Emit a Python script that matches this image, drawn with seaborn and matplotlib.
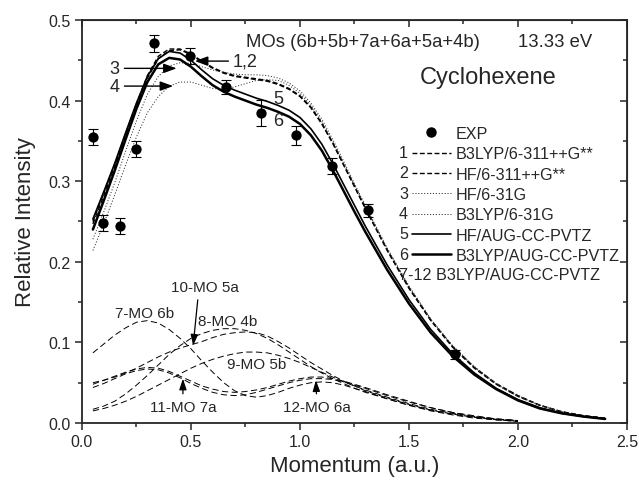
import matplotlib
matplotlib.use("Agg")
import matplotlib.pyplot as plt
import seaborn as sns
import pandas as pd
from matplotlib.lines import Line2D
from matplotlib.ticker import MultipleLocator

sns.set_style("ticks")
plt.rcParams["font.family"] = ["Liberation Sans", "DejaVu Sans"]
plt.rcParams["lines.scale_dashes"] = False

# ---------------- data ----------------
exp_x = [0.05, 0.096, 0.174, 0.25, 0.33, 0.495, 0.66, 0.82, 0.98, 1.147, 1.31, 1.71]
exp_y = [0.355, 0.248, 0.244, 0.340, 0.471, 0.455, 0.417, 0.385, 0.357, 0.319, 0.264, 0.085]
exp_err = [0.010, 0.010, 0.010, 0.010, 0.011, 0.010, 0.009, 0.016, 0.012, 0.010, 0.008, 0.005]

x_theory = [0.05, 0.1, 0.15, 0.2, 0.25, 0.3, 0.35, 0.4, 0.45, 0.5, 0.55, 0.6, 0.65, 0.7,
            0.75, 0.8, 0.85, 0.9, 0.95, 1.0, 1.05, 1.1, 1.15, 1.2, 1.25, 1.3, 1.4, 1.5,
            1.6, 1.7, 1.8, 1.9, 2.0, 2.1, 2.2, 2.3, 2.4]

b3lyp_6311 = [.247, .282, .318, .356, .393, .428, .452, .462, .463, .457, .448, .440, .434, .430,
              .428, .426, .424, .420, .414, .405, .391, .371, .347, .320, .293, .266, .214, .167,
              .127, .094, .068, .048, .033, .022, .014, .009, .006]
hf_6311 = [.250, .285, .321, .359, .396, .431, .455, .464, .464, .458, .449, .441, .435, .431,
           .429, .427, .425, .421, .415, .406, .392, .372, .348, .321, .294, .267, .215, .168,
           .128, .095, .069, .049, .034, .022, .014, .009, .006]
hf_631g = [.228, .262, .298, .337, .375, .408, .430, .443, .447, .446, .442, .438, .435, .433,
           .432, .432, .431, .428, .422, .412, .397, .377, .352, .325, .297, .270, .217, .170,
           .129, .096, .070, .049, .034, .022, .014, .009, .006]
b3lyp_631g = [.214, .247, .283, .320, .355, .385, .405, .418, .423, .423, .419, .415, .414, .417,
              .421, .425, .426, .425, .419, .409, .394, .374, .349, .322, .295, .268, .216, .169,
              .128, .095, .069, .048, .033, .022, .014, .009, .006]
hf_aug = [.253, .287, .322, .360, .397, .430, .452, .461, .459, .450, .438, .427, .419, .413,
          .408, .403, .399, .394, .388, .379, .365, .346, .322, .296, .270, .244, .196, .153,
          .116, .086, .062, .043, .029, .019, .012, .008, .005]
b3lyp_aug = [.240, .276, .313, .352, .390, .423, .445, .453, .451, .442, .430, .419, .411, .405,
             .400, .395, .391, .386, .380, .371, .357, .338, .314, .288, .262, .237, .190, .148,
             .112, .083, .060, .042, .028, .018, .012, .008, .005]

x_comp = [0.05, 0.1, 0.15, 0.2, 0.25, 0.3, 0.35, 0.4, 0.45, 0.5, 0.55, 0.6, 0.65, 0.7,
          0.75, 0.8, 0.85, 0.9, 0.95, 1.0, 1.05, 1.1, 1.15, 1.2, 1.25, 1.3, 1.4, 1.5,
          1.6, 1.7, 1.8, 1.9, 2.0]
mo7_6b = [.087, .098, .109, .118, .125, .127, .124, .116, .105, .092, .077, .063, .050, .040,
          .034, .032, .034, .038, .043, .047, .050, .051, .050, .047, .043, .039, .030, .022,
          .015, .010, .006, .004, .002]
mo8_4b = [.017, .021, .027, .036, .047, .059, .072, .085, .096, .105, .111, .115, .117, .117,
          .115, .111, .105, .097, .088, .079, .070, .062, .055, .049, .043, .038, .030, .022,
          .016, .011, .007, .004, .002]
mo9_5b = [.015, .018, .022, .027, .033, .040, .047, .054, .061, .068, .074, .079, .083, .086,
          .088, .088, .087, .084, .080, .075, .069, .063, .057, .051, .046, .041, .032, .024,
          .017, .012, .008, .005, .003]
mo10_5a = [.050, .053, .057, .062, .068, .075, .082, .088, .093, .097, .101, .106, .110, .112,
           .113, .112, .108, .101, .093, .084, .075, .067, .059, .052, .046, .040, .031, .023,
           .016, .011, .007, .004, .002]
mo11_7a = [.048, .053, .058, .063, .067, .069, .068, .064, .058, .052, .046, .042, .039, .038,
           .039, .041, .044, .048, .052, .055, .057, .057, .055, .052, .048, .044, .035, .027,
           .019, .013, .009, .005, .003]
mo12_6a = [.044, .049, .055, .061, .065, .067, .066, .062, .056, .049, .043, .038, .035, .034,
           .035, .038, .042, .046, .050, .053, .055, .055, .054, .051, .047, .043, .034, .026,
           .019, .013, .008, .005, .003]

legend_numbers = ["1", "2", "3", "4", "5", "6"]
legend_labels = ["B3LYP/6-311++G**", "HF/6-311++G**", "HF/6-31G", "B3LYP/6-31G",
                 "HF/AUG-CC-PVTZ", "B3LYP/AUG-CC-PVTZ"]

# ---------------- figure ----------------
fig = plt.figure(figsize=(6.39, 4.85), dpi=100)
ax = fig.add_axes([0.1283, 0.1258, 0.8529, 0.8309])

comp_style = dict(color="black", lw=0.7, linestyle=(0, (4.5, 2.5)))
for ys in [mo7_6b, mo8_4b, mo9_5b, mo10_5a, mo11_7a, mo12_6a]:
    sns.lineplot(x=x_comp, y=ys, ax=ax, estimator=None, sort=False, legend=False, **comp_style)

styles = [
    dict(color="black", lw=1.0, linestyle=(0, (3.5, 1.8))),
    dict(color="black", lw=1.0, linestyle=(0, (3.5, 1.8))),
    dict(color="#333333", lw=0.7, linestyle=(0, (0.8, 1.3))),
    dict(color="#333333", lw=0.7, linestyle=(0, (0.8, 1.3))),
    dict(color="black", lw=1.2, linestyle="-"),
    dict(color="black", lw=1.8, linestyle="-"),
]
series = [b3lyp_6311, hf_6311, hf_631g, b3lyp_631g, hf_aug, b3lyp_aug]
for ys, st in zip(series, styles):
    sns.lineplot(x=x_theory, y=ys, ax=ax, estimator=None, sort=False, legend=False, **st)

ax.errorbar(exp_x, exp_y, yerr=exp_err, fmt="none", ecolor="black", elinewidth=0.8,
            capsize=3.5, capthick=0.8, zorder=5)
sns.scatterplot(x=exp_x, y=exp_y, ax=ax, color="black", s=55, edgecolor="black",
                linewidth=0, zorder=6, legend=False)

ax.set_xlim(0, 2.5)
ax.set_ylim(0, 0.5)
ax.xaxis.set_major_locator(MultipleLocator(0.5))
ax.xaxis.set_minor_locator(MultipleLocator(0.25))
ax.yaxis.set_major_locator(MultipleLocator(0.1))
ax.yaxis.set_minor_locator(MultipleLocator(0.05))
ax.xaxis.set_major_formatter(matplotlib.ticker.FormatStrFormatter("%.1f"))
ax.yaxis.set_major_formatter(matplotlib.ticker.FormatStrFormatter("%.1f"))
ax.tick_params(which="major", direction="out", length=5, width=1.1, labelsize=11.5, pad=3)
ax.tick_params(which="minor", direction="out", length=3, width=1.1)
for sp in ax.spines.values():
    sp.set_visible(True)
    sp.set_linewidth(1.3)

secx = ax.secondary_xaxis("top")
secx.xaxis.set_major_locator(MultipleLocator(0.5))
secx.xaxis.set_minor_locator(MultipleLocator(0.25))
secx.tick_params(which="major", direction="in", length=5, width=1.1, labeltop=False)
secx.tick_params(which="minor", direction="in", length=3, width=1.1)
secy = ax.secondary_yaxis("right")
secy.yaxis.set_major_locator(MultipleLocator(0.1))
secy.yaxis.set_minor_locator(MultipleLocator(0.05))
secy.tick_params(which="major", direction="in", length=5, width=1.1, labelright=False)
secy.tick_params(which="minor", direction="in", length=3, width=1.1)

ax.set_xlabel("Momentum (a.u.)", fontsize=16, labelpad=4)
ax.set_ylabel("Relative Intensity", fontsize=16, labelpad=9)

# ---------------- texts and arrows ----------------
arr = dict(arrowstyle="-|>,head_length=0.6,head_width=0.22", color="black", lw=1.0,
           shrinkA=1, shrinkB=0)
ax.annotate("3", xy=(0.434, 0.440), xytext=(0.15, 0.440), fontsize=13, ha="center",
            va="center", arrowprops=arr)
ax.annotate("4", xy=(0.418, 0.418), xytext=(0.15, 0.418), fontsize=13, ha="center",
            va="center", arrowprops=arr)
ax.annotate("1,2", xy=(0.518, 0.449), xytext=(0.75, 0.449), fontsize=13, ha="center",
            va="center", arrowprops=arr)
ax.text(0.90, 0.403, "5", fontsize=13, ha="center", va="center")
ax.text(0.90, 0.375, "6", fontsize=13, ha="center", va="center")

ax.text(0.752, 0.473, "MOs (6b+5b+7a+6a+5a+4b)", fontsize=13.3, ha="left", va="center")
ax.text(2.0, 0.473, "13.33 eV", fontsize=13.3, ha="left", va="center")
ax.text(1.55, 0.429, "Cyclohexene", fontsize=17, ha="left", va="center")

ax.text(0.285, 0.136, "7-MO 6b", fontsize=11, ha="center", va="center")
ax.text(0.67, 0.126, "8-MO 4b", fontsize=11, ha="center", va="center")
ax.text(0.80, 0.073, "9-MO 5b", fontsize=11, ha="center", va="center")
arr2 = dict(arrowstyle="-|>,head_length=0.6,head_width=0.2", color="black", lw=0.9,
            shrinkA=2, shrinkB=0)
ax.annotate("10-MO 5a", xy=(0.51, 0.096), xytext=(0.565, 0.169), fontsize=11, ha="center",
            va="center", arrowprops=dict(arr2, relpos=(0.4, 0)))
ax.annotate("11-MO 7a", xy=(0.463, 0.055), xytext=(0.463, 0.020), fontsize=11, ha="center",
            va="center", arrowprops=arr2)
ax.annotate("12-MO 6a", xy=(1.073, 0.053), xytext=(1.078, 0.020), fontsize=11, ha="center",
            va="center", arrowprops=arr2)

# ---------------- legend ----------------
handles = [Line2D([], [], marker="o", color="black", linestyle="none", markersize=6.5)]
for st in styles:
    handles.append(Line2D([], [], **st))
leg = ax.legend(handles, ["EXP"] + legend_labels, loc="upper left",
                bbox_to_anchor=(0.6055, 0.737), frameon=False, fontsize=11.6,
                handlelength=2.4, handletextpad=0.3, labelspacing=0.33,
                borderpad=0, borderaxespad=0)

fig.canvas.draw()
r = fig.canvas.get_renderer()
hs = leg.legend_handles
inv = fig.transFigure.inverted()
ys_rows = []
for num, h in zip(legend_numbers, hs[1:]):
    bb = h.get_window_extent(r)
    xf, yf = inv.transform((bb.x0 - 4, (bb.y0 + bb.y1) / 2))
    ys_rows.append((bb.y0 + bb.y1) / 2)
    fig.text(xf, yf, num, fontsize=11.6, ha="right", va="center")
bb1 = hs[1].get_window_extent(r)
step = ys_rows[0] - ys_rows[1]
num_w = fig.text(0, 0, "1", fontsize=11.6).get_window_extent(r).width
xf, yf = inv.transform((bb1.x0 - 4 - num_w, ys_rows[-1] - step))
fig.texts[-1].remove()
fig.text(xf, yf, "7-12 B3LYP/AUG-CC-PVTZ", fontsize=11.6, ha="left", va="center")

fig.savefig("out.png", dpi=100)
